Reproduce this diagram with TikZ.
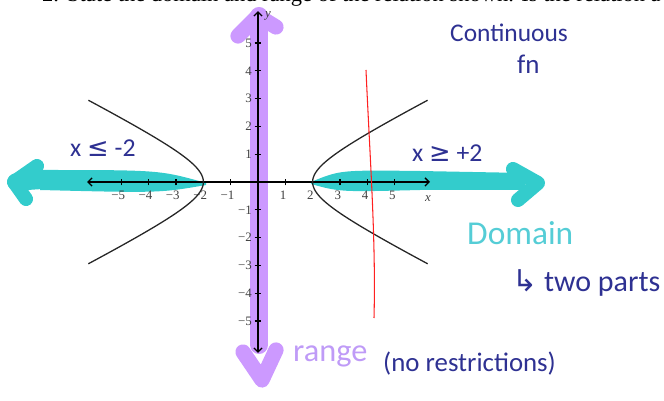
\documentclass[tikz,border=0pt]{standalone}
\usepackage{fontspec}
\setmainfont{Liberation Serif}
\newfontfamily\handfont{Carlito}
\newfontfamily\symbfont{DejaVu Sans}
\usetikzlibrary{arrows.meta}
\definecolor{HLCyan}{HTML}{33CCCC}
\definecolor{HLViolet}{HTML}{CC99FF}
\definecolor{InkBlue}{HTML}{2E3192}
\definecolor{InkCyan}{HTML}{55CDD6}
\definecolor{InkViolet}{HTML}{BF9BF7}
\definecolor{InkRed}{HTML}{FF2020}

\begin{document}
\begin{tikzpicture}[
    x=0.03cm, y=-0.03cm,
    hlcyan/.style={
      HLCyan,
      line cap=round,
      line join=round
    },
    hlviolet/.style={
      HLViolet,
      line cap=round,
      line join=round
    },
    axisline/.style={
      black,
      line width=1.1pt
    },
    curveline/.style={
      black!85,
      line width=1.1pt
    },
    ticklbl/.style={
      inner sep=0pt,
      black!75,
      font=\fontsize{11}{12}\selectfont
    },
    axislbl/.style={
      inner sep=0pt,
      black!75,
      font=\fontsize{11}{12}\selectfont\itshape
    },
    hand/.style={
      inner sep=0pt,
      anchor=base west
    }
  ]
  \useasboundingbox (0,0) rectangle (664,401);
  \clip (0,0) rectangle (664,401);

  % Aufgabe (oben abgeschnitten)
  \node[hand, font=\fontsize{19.2}{22}\selectfont] (qnum) at (42,1.5) {2.};
  \node[hand, font=\fontsize{19.2}{22}\selectfont] (qtext) at (67,1.5)
    {State the domain and range of the relation shown. Is the relation a fu};

  % Markierungen: Wertebereich
  \draw[hlviolet, line width=15.4pt] (259,16) -- (259,345);
  \draw[hlviolet, line width=13pt] (238,36) -- (258,16) -- (276,27);
  \draw[hlviolet, line width=13pt] (243,352) -- (262,380) -- (276,350);

  % Markierungen: Definitionsbereich
  \fill[HLCyan] (206,183) .. controls (160,170) .. (40,170) -- (40,190)
    .. controls (160,193) .. (206,185) -- cycle;
  \draw[hlcyan, line width=15pt] (45,180) -- (16,182);
  \draw[hlcyan, line width=12pt] (37,166) -- (14,182) -- (26,199);
  \fill[HLCyan] (311,182) .. controls (340,170) .. (420,171) -- (525,173)
    -- (525,190) -- (420,190) .. controls (340,192) .. (311,184) -- cycle;
  \draw[hlcyan, line width=12pt] (513,169) -- (538,183) -- (518,200);

  % Koordinatensystem
  \begin{scope}[shift={(258,182)}, x=0.819cm, y=0.834cm]
    \draw[axisline, {Straight Barb[length=3.5pt,width=7pt]}-{Straight Barb[length=3.5pt,width=7pt]}]
      (-6.26,0) -- (6.3,0);
    \draw[axisline, {Straight Barb[length=3.5pt,width=7pt]}-{Straight Barb[length=3.5pt,width=7pt]}]
      (0,-6.15) -- (0,6.15);
    \foreach \t in {1,...,5}{
      \draw[axisline] (\t,-.12) -- (\t,.12);
      \draw[axisline] (-\t,-.12) -- (-\t,.12);
      \draw[axisline] (-.12,\t) -- (.12,\t);
      \draw[axisline] (-.12,-\t) -- (.12,-\t);
      \node[ticklbl, anchor=north] (xp\t) at (\t-.08,-.33) {\t};
      \node[ticklbl, anchor=north] (xn\t) at (-\t-.12,-.33) {−\t};
      \node[ticklbl, anchor=east] (yp\t) at (-.22,\t) {\t};
      \node[ticklbl, anchor=east] (yn\t) at (-.22,-\t) {−\t};
    }
    \node[axislbl] (xlbl) at (6.23,-.61) {x};
    \node[axislbl] (ylbl) at (.37,5.97) {y};

    % Hyperbel x^2/4 - y^2 = 1
    \draw[curveline] plot[domain=-1.8:1.8, samples=60, smooth]
      ({2*cosh(\x)},{sinh(\x)});
    \draw[curveline] plot[domain=-1.8:1.8, samples=60, smooth]
      ({-2*cosh(\x)},{sinh(\x)});
  \end{scope}

  % senkrechte Linie (Test)
  \draw[InkRed, line width=0.9pt] (366,70) .. controls (370,160) and (376,240) .. (374,318);

  % Notizen
  \node[hand, InkBlue, font=\handfont\fontsize{21.7}{24}\selectfont] (cont) at (450,42) {Continuous};
  \node[hand, InkBlue, font=\handfont\fontsize{23}{24}\selectfont] (fn) at (517,74) {fn};
  \node[hand, InkBlue, font=\handfont\fontsize{22}{24}\selectfont] (xle) at (70,157)
    {x {\symbfont ≤} -2};
  \node[hand, InkBlue, font=\handfont\fontsize{22}{24}\selectfont] (xge) at (412,162)
    {x {\symbfont ≥} +2};
  \node[hand, InkCyan, font=\handfont\fontsize{28.5}{30}\selectfont] (dom) at (467,245) {Domain};
  \node[hand, InkBlue, font=\handfont\fontsize{25.6}{28}\selectfont] (parts) at (512,292)
    {{\symbfont ↳} two parts};
  \node[hand, InkViolet, font=\handfont\fontsize{27.6}{30}\selectfont] (rng) at (293,362) {range};
  \node[hand, InkBlue, font=\handfont\fontsize{22.9}{25}\selectfont] (norestr) at (383,372)
    {(no restrictions)};
\end{tikzpicture}
\end{document}
